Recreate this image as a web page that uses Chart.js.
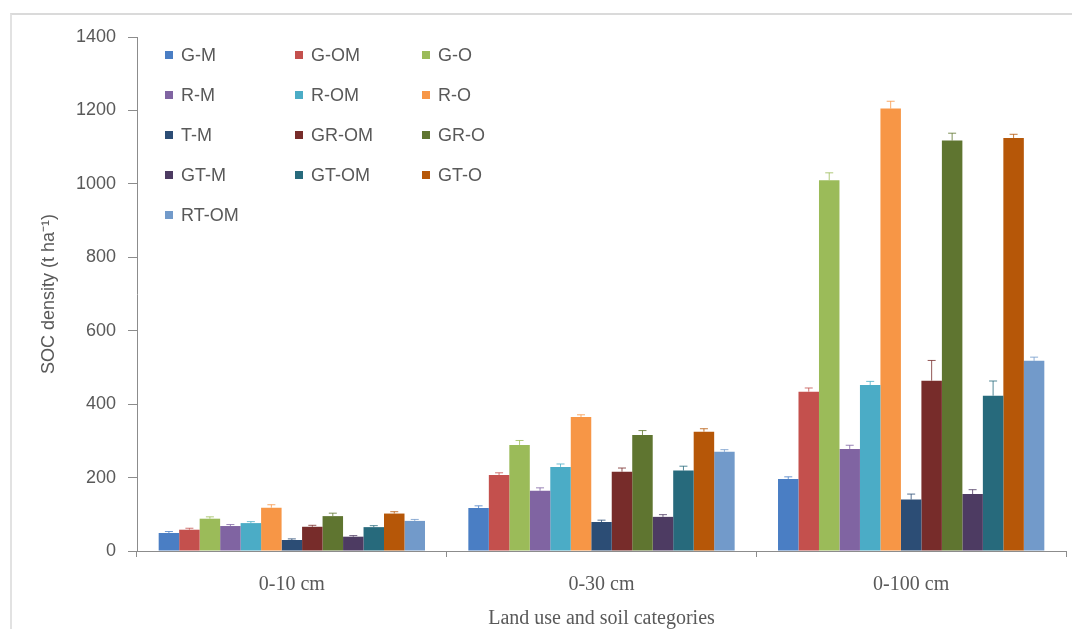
<!DOCTYPE html>
<html>
<head>
<meta charset="utf-8">
<script src="https://cdn.jsdelivr.net/npm/chart.js@4"></script>
<style>
  html, body { margin: 0; padding: 0; background: #fff; }
  #frame { position: absolute; left: 10px; top: 13px; width: 1062px; height: 616px;
           border-top: 2px solid #dadada; border-left: 2px solid #e2e2e2; }
  #wrap { position: absolute; left: 0; top: 0; width: 1072px; height: 629px; }
</style>
</head>
<body>
<div id="frame"></div>
<div id="wrap"><canvas id="socBar"></canvas></div>
<script>
// depth categories
const depths = ["0-10 cm", "0-30 cm", "0-100 cm"];

// land use / soil series (SOC density, t/ha) per depth
const seriesNames = ["G-M", "G-OM", "G-O", "R-M", "R-OM", "R-O", "T-M",
                     "GR-OM", "GR-O", "GT-M", "GT-OM", "GT-O", "RT-OM"];
const gM   = [49, 117, 196];
const gOM  = [58, 207, 434];
const gO   = [88, 289, 1010];
const rM   = [68, 164, 278];
const rOM  = [76, 229, 452];
const rO   = [118, 365, 1205];
const tM   = [30, 79, 140];
const grOM = [66, 216, 464];
const grO  = [95, 316, 1118];
const gtM  = [39, 93, 155];
const gtOM = [65, 219, 423];
const gtO  = [102, 325, 1125];
const rtOM = [82, 270, 518];

// error bar half-widths (t/ha)
const gM_err   = [4, 6, 6];
const gOM_err  = [4, 6, 10];
const gO_err   = [5, 12, 20];
const rM_err   = [4, 8, 10];
const rOM_err  = [4, 8, 10];
const rO_err   = [8, 6, 20];
const tM_err   = [3, 5, 15];
const grOM_err = [4, 10, 55];
const grO_err  = [8, 12, 20];
const gtM_err  = [3, 6, 12];
const gtOM_err = [4, 12, 40];
const gtO_err  = [5, 8, 10];
const rtOM_err = [4, 6, 10];

const yTicks = [0, 200, 400, 600, 800, 1000, 1200, 1400];

const allValues = [gM, gOM, gO, rM, rOM, rO, tM, grOM, grO, gtM, gtOM, gtO, rtOM];
const allErrors = [gM_err, gOM_err, gO_err, rM_err, rOM_err, rO_err, tM_err,
                   grOM_err, grO_err, gtM_err, gtOM_err, gtO_err, rtOM_err];
const colors = ["#4a7ec4", "#c4504d", "#9bbb59", "#8064a2", "#4bacc6", "#f79646",
                "#2c4d75", "#772c2a", "#5f7530", "#4d3b62", "#276a7c", "#b65708", "#729aca"];

const gray = "#595959";

// error bars drawn through the chart's own scales
const errorBars = {
  id: "errorBars",
  afterDatasetsDraw(chart) {
    const ctx = chart.ctx;
    const y = chart.scales.y;
    chart.data.datasets.forEach((ds, i) => {
      const meta = chart.getDatasetMeta(i);
      meta.data.forEach((bar, j) => {
        const top = y.getPixelForValue(ds.data[j] + allErrors[i][j]);
        ctx.save();
        ctx.strokeStyle = ds.backgroundColor;
        ctx.globalAlpha = 0.8;
        ctx.lineWidth = 1;
        ctx.beginPath();
        ctx.moveTo(bar.x, bar.y);
        ctx.lineTo(bar.x, top);
        ctx.moveTo(bar.x - 4, top);
        ctx.lineTo(bar.x + 4, top);
        ctx.stroke();
        ctx.restore();
      });
    });
  },
};

// 3-column legend inside the plot area, like the Excel original
const gridLegend = {
  id: "gridLegend",
  afterDraw(chart) {
    const ctx = chart.ctx;
    const colX = [165, 295, 422];
    ctx.save();
    ctx.font = "18px 'Liberation Sans', Arial, sans-serif";
    ctx.textBaseline = "middle";
    chart.data.datasets.forEach((ds, i) => {
      const x = colX[i % 3];
      const yy = 55 + Math.floor(i / 3) * 40;
      ctx.fillStyle = ds.backgroundColor;
      ctx.fillRect(x, yy - 4, 8, 8);
      ctx.fillStyle = gray;
      ctx.fillText(ds.label, x + 16, yy + 1);
    });
    ctx.restore();
  },
};

const datasets = seriesNames.map((name, i) => ({
  label: name,
  data: allValues[i],
  backgroundColor: colors[i],
  borderWidth: 0,
  categoryPercentage: 0.86,
  barPercentage: 1.0,
}));

const config = {
  type: "bar",
  data: { labels: depths, datasets: datasets },
  options: {
    responsive: true,
    maintainAspectRatio: false,
    animation: false,
    layout: { padding: { left: 0, right: 6, top: 37, bottom: 0 } },
    scales: {
      x: {
        afterFit: (s) => { s.height = 78; },
        grid: { display: true, drawOnChartArea: false, drawTicks: true, tickLength: 6, color: "#8c8c8c" },
        border: { display: true, color: "#8c8c8c" },
        ticks: { color: gray, padding: 16, font: { family: "'Liberation Serif', 'Times New Roman', serif", size: 20 } },
        title: {
          display: true,
          text: "Land use and soil categories",
          color: gray,
          font: { family: "'Liberation Serif', 'Times New Roman', serif", size: 20, lineHeight: 1.0 },
          padding: { top: 0, bottom: 0 },
        },
      },
      y: {
        min: 0,
        max: 1400,
        afterFit: (s) => { s.width = 137; },
        afterBuildTicks: (s) => { s.ticks = yTicks.map((v) => ({ value: v })); },
        grid: { display: true, drawOnChartArea: false, drawTicks: true, tickLength: 9, color: "#8c8c8c" },
        border: { display: true, color: "#8c8c8c" },
        ticks: {
          color: gray,
          padding: 12,
          font: { family: "'Liberation Sans', Arial, sans-serif", size: 18 },
          callback: (v) => String(v),
        },
        title: {
          display: true,
          text: "SOC density (t ha⁻¹)",
          color: gray,
          font: { family: "'Liberation Sans', Arial, sans-serif", size: 18 },
          padding: { top: 38, bottom: 38 },
        },
      },
    },
    plugins: {
      legend: { display: false },
      tooltip: { enabled: false },
    },
  },
  plugins: [errorBars, gridLegend],
};

new Chart(document.getElementById("socBar"), config);
</script>
</body>
</html>
